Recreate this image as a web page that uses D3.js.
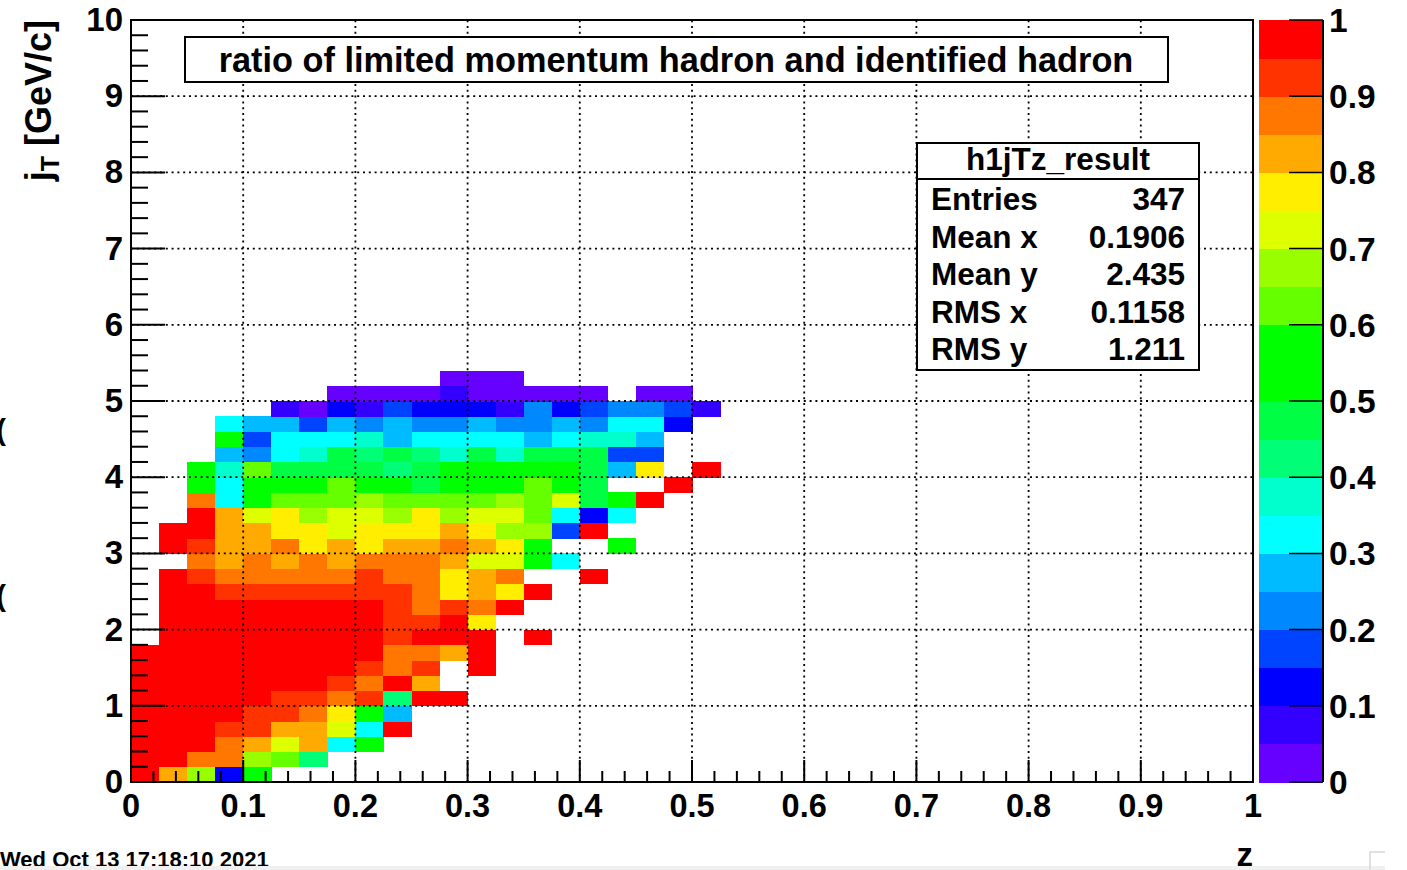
<!DOCTYPE html>
<html>
<head>
<meta charset="utf-8">
<script src="https://cdn.jsdelivr.net/npm/d3@7"></script>
<style>
  body { margin: 0; background: #fff; }
  text { font-family: "Liberation Sans", Arial, Helvetica, sans-serif; font-weight: bold; fill: #000; }
</style>
</head>
<body>
<svg id="chart" width="1407" height="870"></svg>
<script>
const _ = null;

// ratio per (z, jT) bin; rows go up in jT (0.2 wide), columns go right in z (0.025 wide)
const row00 = [.98,.83,.68,.13,.53];
const row01 = [.98,.98,.88,.88,.68,.63,.43];
const row02 = [.98,.98,.98,.88,.83,.73,.83,.33,.53];
const row03 = [.98,.98,.98,.93,.93,.83,.83,.73,.33,.98];
const row04 = [.98,.98,.98,.98,.93,.93,.88,.78,.53,.28];
const row05 = [.98,.98,.98,.98,.98,.93,.93,.88,.93,.43,.98,.98];
const row06 = [.98,.98,.98,.98,.98,.98,.98,.93,.88,.98,.83];
const row07 = [.98,.98,.98,.98,.98,.98,.98,.98,.93,.88,.93,_,.98];
const row08 = [.98,.98,.98,.98,.98,.98,.98,.98,.98,.88,.88,.83,.98];
const row09 = [_,.98,.98,.98,.98,.98,.98,.98,.98,.93,.98,.98,.98,_,.98];
const row10 = [_,.98,.98,.98,.98,.98,.98,.98,.98,.93,.93,.98,.78];
const row11 = [_,.98,.98,.98,.98,.98,.98,.98,.98,.93,.88,.93,.88,.98];
const row12 = [_,.98,.98,.93,.93,.93,.93,.93,.93,.93,.88,.78,.83,.78,.98];
const row13 = [_,.98,.93,.88,.88,.88,.88,.88,.93,.88,.88,.78,.83,.88,_,_,.98];
const row14 = [_,_,.88,.83,.88,.83,.88,.83,.88,.88,.88,.83,.73,.73,.53,.33];
const row15 = [_,.98,.93,.83,.83,.88,.78,.83,.78,.83,.83,.88,.83,.78,.53,_,_,.53];
const row16 = [_,.98,.98,.83,.83,.78,.78,.73,.78,.78,.78,.83,.78,.68,.68,.18,.98];
const row17 = [_,_,.98,.83,.73,.78,.68,.73,.73,.68,.78,.68,.73,.73,.63,.33,.13,.33];
const row18 = [_,_,.88,.33,.53,.63,.63,.63,.68,.63,.63,.63,.63,.68,.63,.73,.48,.53,.98];
const row19 = [_,_,.53,.33,.53,.53,.53,.63,.53,.53,.48,.53,.53,.53,.63,.53,.48,_,_,.98];
const row20 = [_,_,.53,.38,.63,.48,.48,.48,.48,.43,.48,.53,.53,.53,.53,.53,.48,.28,.78,_,.98];
const row21 = [_,_,_,.28,.23,.33,.38,.48,.43,.48,.43,.38,.48,.38,.48,.48,.48,.18,.18];
const row22 = [_,_,_,.53,.18,.33,.33,.33,.38,.28,.33,.33,.33,.33,.28,.33,.38,.38,.28];
const row23 = [_,_,_,.33,.28,.28,.18,.28,.23,.28,.23,.23,.28,.23,.23,.28,.23,.33,.33,.13];
const row24 = [_,_,_,_,_,.08,.03,.13,.08,.18,.13,.13,.13,.08,.23,.13,.18,.23,.23,.18,.08];
const row25 = [_,_,_,_,_,_,_,.03,.03,.03,.03,.08,.03,.03,.03,.03,.03,_,.03,.03];
const row26 = [_,_,_,_,_,_,_,_,_,_,_,.03,.03,.03];
const rows = [row00,row01,row02,row03,row04,row05,row06,row07,row08,row09,row10,row11,row12,row13,
              row14,row15,row16,row17,row18,row19,row20,row21,row22,row23,row24,row25,row26];

const zBin = 0.025, jtBin = 0.2;

const palette = ['#6600ff','#3300ff','#0000ff','#0044ff','#0088ff','#00bbff','#00ffff','#00ffcc',
                 '#00ff77','#00ff44','#00ff00','#00ff00','#66ff00','#99ff00','#ddff00','#ffee00',
                 '#ffaa00','#ff7700','#ff3300','#ff0000'];

const xTickLabels = ['0','0.1','0.2','0.3','0.4','0.5','0.6','0.7','0.8','0.9','1'];
const yTickLabels = ['0','1','2','3','4','5','6','7','8','9','10'];
const zTickLabels = ['0','0.1','0.2','0.3','0.4','0.5','0.6','0.7','0.8','0.9','1'];

const statNames  = ['Entries','Mean x','Mean y','RMS x','RMS y'];
const statValues = ['347','0.1906','2.435','0.1158','1.211'];

const title = 'ratio of limited momentum hadron and identified hadron';
const histName = 'h1jTz_result';
const dateText = 'Wed Oct 13 17:18:10 2021';

const svg = d3.select('#chart');

const x = d3.scaleLinear().domain([0, 1]).range([131, 1253]);
const y = d3.scaleLinear().domain([0, 10]).range([782, 20]);
const color = d3.scaleQuantize().domain([0, 1]).range(palette);

// cells
const cells = [];
rows.forEach((r, j) => r.forEach((v, i) => { if (v != null) cells.push({ i, j, v }); }));

svg.append('g').attr('shape-rendering', 'crispEdges')
  .selectAll('rect').data(cells).join('rect')
  .attr('x', d => x(d.i * zBin))
  .attr('y', d => y((d.j + 1) * jtBin))
  .attr('width', x(zBin) - x(0) + 0.5)
  .attr('height', y(0) - y(jtBin) + 0.5)
  .attr('fill', d => color(d.v));

// dotted grid
const grid = svg.append('g').attr('stroke', '#000').attr('stroke-width', 1.8)
  .attr('stroke-dasharray', '2,3.8');
grid.selectAll('.gx').data(d3.range(1, 10).map(k => k / 10)).join('line')
  .attr('x1', d => x(d)).attr('x2', d => x(d)).attr('y1', y(0)).attr('y2', y(10));
grid.selectAll('.gy').data(d3.range(1, 10)).join('line')
  .attr('y1', d => y(d)).attr('y2', d => y(d)).attr('x1', x(0)).attr('x2', x(1));

// ticks
const ticks = svg.append('g').attr('stroke', '#000').attr('stroke-width', 2);
ticks.selectAll('.tx').data(d3.range(0, 51)).join('line')
  .attr('x1', d => x(d * 0.02)).attr('x2', d => x(d * 0.02))
  .attr('y1', y(0)).attr('y2', d => y(0) - (d % 5 === 0 ? 22 : 11));
ticks.selectAll('.ty').data(d3.range(0, 51)).join('line')
  .attr('y1', d => y(d * 0.2)).attr('y2', d => y(d * 0.2))
  .attr('x1', x(0)).attr('x2', d => x(0) + (d % 5 === 0 ? 34 : 17));

// frame
svg.append('rect').attr('x', x(0)).attr('y', y(10))
  .attr('width', x(1) - x(0)).attr('height', y(0) - y(10))
  .attr('fill', 'none').attr('stroke', '#000').attr('stroke-width', 2);

// tick labels
svg.append('g').selectAll('text').data(xTickLabels).join('text')
  .attr('x', (d, k) => x(k / 10)).attr('y', 817)
  .attr('text-anchor', 'middle').attr('font-size', 32.5).text(d => d);
svg.append('g').selectAll('text').data(yTickLabels).join('text')
  .attr('x', 123).attr('y', (d, k) => y(k) + 11)
  .attr('text-anchor', 'end').attr('font-size', 33).text(d => d);

// axis titles
svg.append('text').attr('x', 1253).attr('y', 866).attr('text-anchor', 'end')
  .attr('font-size', 33).text('z');
const yt = svg.append('text').attr('transform', 'translate(51,20) rotate(-90)')
  .attr('text-anchor', 'end').attr('font-size', 36);
yt.append('tspan').text('j');
yt.append('tspan').attr('font-size', 25).attr('dy', 8).text('T');
yt.append('tspan').attr('dy', -8).text(' [GeV/c]');

// palette
const zScale = d3.scaleLinear().domain([0, 1]).range([782, 20]);
const pal = svg.append('g');
pal.append('g').attr('shape-rendering', 'crispEdges')
  .selectAll('rect').data(palette).join('rect')
  .attr('x', 1259).attr('width', 64)
  .attr('y', (d, k) => zScale((k + 1) / 20))
  .attr('height', zScale(0) - zScale(0.05) + 0.5)
  .attr('fill', d => d);
pal.append('line').attr('x1', 1323).attr('x2', 1323).attr('y1', zScale(0)).attr('y2', zScale(1))
  .attr('stroke', '#000').attr('stroke-width', 2);
pal.selectAll('.pt').data(zTickLabels).join('line')
  .attr('x1', 1289).attr('x2', 1323)
  .attr('y1', (d, k) => zScale(k / 10)).attr('y2', (d, k) => zScale(k / 10))
  .attr('stroke', '#000').attr('stroke-width', 1.5);
pal.selectAll('text').data(zTickLabels).join('text')
  .attr('x', 1329).attr('y', (d, k) => zScale(k / 10) + 12)
  .attr('font-size', 33.5).text(d => d);

// title box
svg.append('rect').attr('x', 185).attr('y', 37).attr('width', 983).attr('height', 45)
  .attr('fill', '#fff').attr('stroke', '#000').attr('stroke-width', 2);
svg.append('text').attr('x', 676).attr('y', 72).attr('text-anchor', 'middle')
  .attr('font-size', 34.3).text(title);

// stats box
const st = svg.append('g');
st.append('rect').attr('x', 917).attr('y', 143).attr('width', 282).attr('height', 227)
  .attr('fill', '#fff').attr('stroke', '#000').attr('stroke-width', 2);
st.append('line').attr('x1', 917).attr('x2', 1199).attr('y1', 179).attr('y2', 179)
  .attr('stroke', '#000').attr('stroke-width', 2);
st.append('text').attr('x', 1058).attr('y', 170).attr('text-anchor', 'middle')
  .attr('font-size', 31.5).text(histName);
st.selectAll('.sn').data(statNames).join('text')
  .attr('x', 931).attr('y', (d, k) => 210 + k * 37.5).attr('font-size', 31.5).text(d => d);
st.selectAll('.sv').data(statValues).join('text')
  .attr('x', 1185).attr('y', (d, k) => 210 + k * 37.5).attr('text-anchor', 'end')
  .attr('font-size', 31.5).text(d => d);

// date stamp and screenshot edge remnants
svg.append('text').attr('x', 0).attr('y', 867).attr('font-size', 22).text(dateText);
svg.append('rect').attr('x', 0).attr('y', 866).attr('width', 1385).attr('height', 4).attr('fill', '#f0f0f0');
svg.append('path').attr('d', 'M1370,870V852H1385').attr('fill', 'none').attr('stroke', '#d8d8d8').attr('stroke-width', 1.5);
svg.selectAll('.edge').data([440, 606]).join('text')
  .attr('x', -4).attr('y', d => d).attr('font-size', 30).attr('font-weight', 'normal').text('(');
</script>
</body>
</html>
